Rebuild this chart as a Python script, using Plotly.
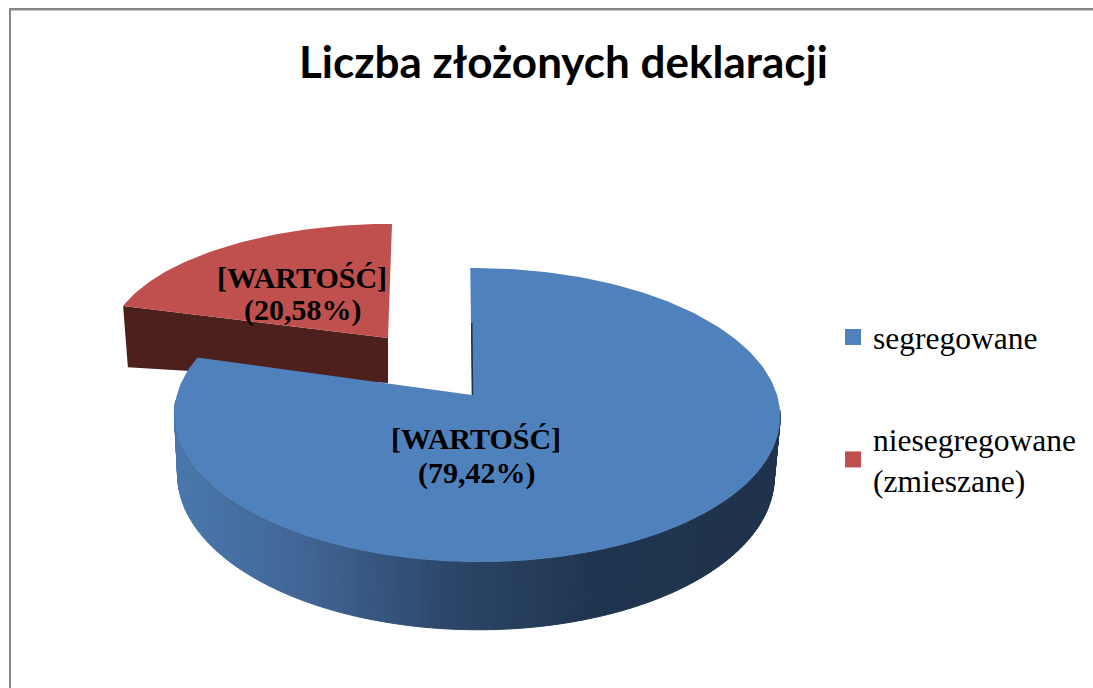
import numpy as np
import plotly.graph_objects as go

# ---- data -------------------------------------------------------------
categories = ["segregowane", "niesegregowane<br>(zmieszane)"]
shares = [79.42, 20.58]
value_labels = ["[WARTOŚĆ]", "[WARTOŚĆ]"]
percent_labels = ["(79,42%)", "(20,58%)"]
title_text = "Liczba złożonych deklaracji"

# ---- styles -----------------------------------------------------------
BLUE, RED, RED_DARK = "#4F81BD", "#C0504D", "#4D1F1D"
W, H = 1093, 688
STOPS_X = [170, 300, 450, 600, 790]
STOPS_RGB = [(74, 120, 172), (65, 102, 150), (44, 70, 105), (31, 52, 78), (31, 51, 76)]

ends = np.cumsum(shares) / np.sum(shares) * 2 * np.pi
blue_start, blue_end = 0.0, ends[0]
red_start, red_end = ends[0], ends[1]


def project(theta, x0, y0, rx, ry, k, m=0.0, s=0.0):
    """Tilted-disc perspective: angle clockwise from the back of the pie."""
    u, v = np.sin(theta), -np.cos(theta)
    d = 1 - k * v - m * u
    return x0 + (rx * u + s * v) / d, y0 + ry * v / d


TOP = dict(x0=472, y0=395, rx=300, ry=144.3, k=0.136, m=0.0165, s=2)
BOTTOM = dict(x0=472, y0=455, rx=295.5, ry=151, k=0.136, m=0.0120, s=2)
RED_TOP = dict(x0=388, y0=338, rx=278, ry=118, k=0.034)
RED_BOTTOM = dict(x0=388, y0=383, rx=273, ry=58, k=0.034)


def poly(x, y, color, lw=0.0):
    return go.Scatter(
        x=list(x), y=list(y), mode="lines", fill="toself", fillcolor=color,
        line=dict(color=color, width=lw), hoverinfo="skip", showlegend=False,
    )


fig = go.Figure()

# exploded slice: front wall, then top face
ax, ay = project(red_start, **RED_TOP)
bx, by = project(red_start, **RED_BOTTOM)
px0, py0 = RED_TOP["x0"], RED_TOP["y0"]
qx0, qy0 = RED_BOTTOM["x0"], RED_BOTTOM["y0"]
fig.add_trace(poly([ax, px0, qx0, bx, ax], [ay, py0, qy0, by, ay], RED_DARK))
th = np.linspace(red_start, red_end, 60)
rx_, ry_ = project(th, **RED_TOP)
rx_ = rx_ + 4 * np.clip((th - red_start) / (red_end - red_start), 0, 1)
fig.add_trace(poly(np.r_[px0, rx_, px0], np.r_[py0, ry_, py0], RED))

# main slice: shaded rim (only the part facing the viewer)
edges = np.radians(np.linspace(96, 268, 141))
for a, b in zip(edges[:-1], edges[1:]):
    tx, ty = project(np.array([a, b]), **TOP)
    ux, uy = project(np.array([b, a]), **BOTTOM)
    mid = (tx.mean() + ux.mean()) / 2
    rgb = [int(round(np.interp(mid, STOPS_X, [c[i] for c in STOPS_RGB]))) for i in range(3)]
    fig.add_trace(poly(np.r_[tx, ux, tx[0]], np.r_[ty, uy, ty[0]], "rgb(%d,%d,%d)" % tuple(rgb), 1.0))

# main slice: top face
th = np.linspace(blue_start, blue_end, 240)
bx_, by_ = project(th, **TOP)
ox, oy = TOP["x0"], TOP["y0"]
fig.add_trace(poly(np.r_[ox, bx_, ox], np.r_[oy, by_, oy], BLUE))

# thin visible part of the inner wall
wx, wy = project(np.array([blue_start]), **TOP)
fig.add_trace(go.Scatter(
    x=[wx[0] + 1.5, ox + 0.5], y=[wy[0] + 55, oy], mode="lines",
    line=dict(color="#1F3550", width=1.6), hoverinfo="skip", showlegend=False,
))

# legend entries
for i, (name, col) in enumerate(zip(categories, [BLUE, RED])):
    fig.add_trace(go.Scatter(
        x=[None], y=[None], mode="markers", name=name, legendgroup=str(i),
        marker=dict(symbol="square", size=17, color=col),
    ))

ann = [dict(text="<b>%s</b>" % title_text, x=563, y=61, showarrow=False, xref="x", yref="y",
            font=dict(family="Lato", size=44, color="black"))]
positions = [(476, 438, 473), (302, 277, 310)]
for (x, y1, y2), a, b in zip(positions, value_labels, percent_labels):
    for y, t in ((y1, a), (y2, b)):
        ann.append(dict(text="<b>%s</b>" % t, x=x, y=y, showarrow=False, xref="x", yref="y",
                        font=dict(family="Liberation Serif", size=30, color="black")))

fig.update_layout(
    width=W, height=H, margin=dict(l=0, r=0, t=0, b=0, autoexpand=False),
    paper_bgcolor="white", plot_bgcolor="white",
    xaxis=dict(range=[0, W], visible=False, fixedrange=True),
    yaxis=dict(range=[H, 0], visible=False, fixedrange=True),
    annotations=ann,
    legend=dict(x=833 / W, y=1 - 310 / H, xanchor="left", yanchor="top",
                bgcolor="rgba(0,0,0,0)", tracegroupgap=58, itemclick=False,
                font=dict(family="Liberation Serif", size=31.5, color="black")),
    shapes=[
        dict(type="line", x0=10, x1=W, y0=9, y1=9, xref="x", yref="y", line=dict(color="#868686", width=2)),
        dict(type="line", x0=11, x1=W, y0=10.5, y1=10.5, xref="x", yref="y", line=dict(color="#C8C8C8", width=1)),
        dict(type="line", x0=10, x1=10, y0=8, y1=H, xref="x", yref="y", line=dict(color="#868686", width=2)),
    ],
)

fig.write_html("out.html", config={"displayModeBar": False},
               post_script="document.body.style.margin='0';document.body.style.overflow='hidden';")
